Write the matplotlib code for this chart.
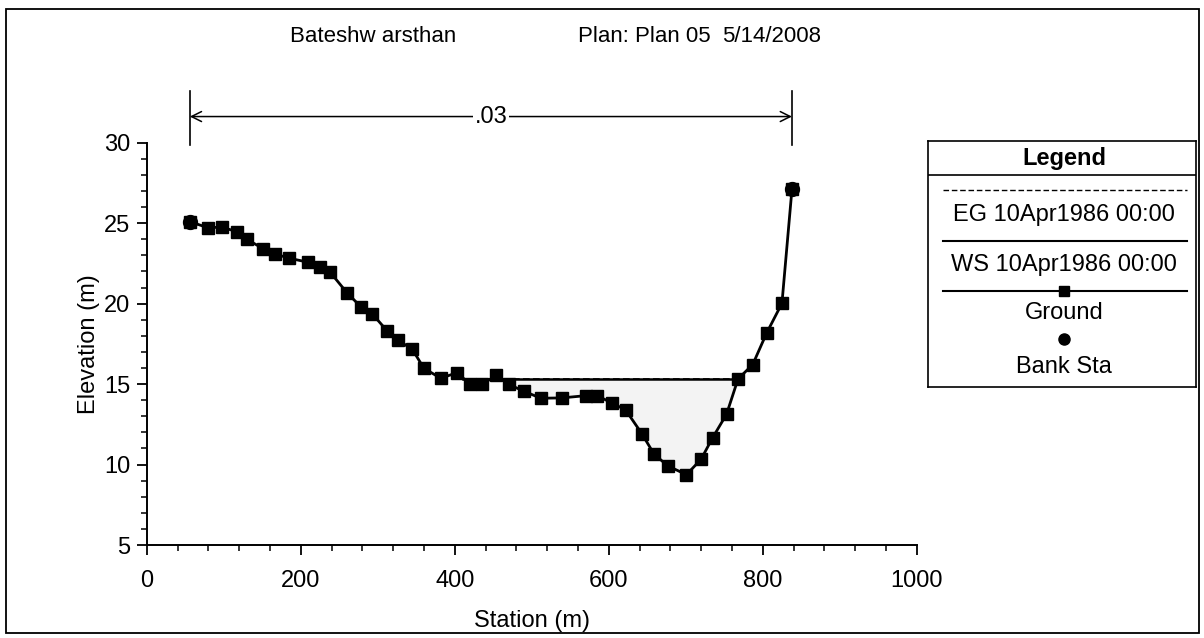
import matplotlib
matplotlib.use("Agg")
import matplotlib.pyplot as plt
from matplotlib.patches import Rectangle
from matplotlib.ticker import MultipleLocator
import numpy as np

plt.rcParams['font.family'] = ['Liberation Sans', 'DejaVu Sans']

# ground profile
station = [56, 79, 98, 117, 130, 151, 166, 185, 210, 225, 238, 260, 278, 293,
           312, 326, 345, 360, 382, 403, 420, 436, 454, 470, 490, 512, 539,
           570, 585, 604, 622, 643, 659, 677, 701, 720, 735, 753, 768, 787,
           805, 825, 838]
elevation = [25.1, 24.72, 24.75, 24.47, 24.0, 23.42, 23.1, 22.82, 22.57, 22.3,
             21.97, 20.68, 19.81, 19.36, 18.32, 17.74, 17.16, 15.98, 15.36,
             15.71, 14.99, 14.99, 15.55, 14.99, 14.55, 14.12, 14.14, 14.28,
             14.28, 13.83, 13.39, 11.92, 10.64, 9.91, 9.37, 10.33, 11.67,
             13.12, 15.32, 16.21, 18.16, 20.02, 27.11]
bank_sta = [56, 838]
bank_elev = [25.1, 27.11]
ws_stations = [411, 768]
ws_elev = 15.32
eg_elev = 15.34
mann_n = ".03"

title_parts = ["Bateshw arsthan", "Plan: Plan 05", "5/14/2008"]
legend_labels = ["EG 10Apr1986 00:00", "WS 10Apr1986 00:00", "Ground", "Bank Sta"]

W, H = 1204, 638
fig = plt.figure(figsize=(W / 100, H / 100), dpi=100)

def fx(px):
    return px / W

def fy(py):
    return 1 - py / H

ax = fig.add_axes([fx(146.7), fy(545), fx(916.7 - 146.7), (545 - 142.7) / H])

st = np.array(station, dtype=float)
el = np.array(elevation, dtype=float)

# wetted area
m = (st >= ws_stations[0] - 10) & (st <= ws_stations[1])
ax.fill_between(st[m], el[m], ws_elev, where=el[m] <= ws_elev, interpolate=True,
                facecolor='#f3f3f3', edgecolor='none', zorder=1)

ax.plot(ws_stations, [eg_elev, eg_elev], color='black', lw=1.2, ls=(0, (4, 2)), zorder=2)
ax.plot(ws_stations, [ws_elev, ws_elev], color='black', lw=1.8, zorder=2)
ax.plot(station, elevation, color='black', lw=2, marker='s', ms=8.5, zorder=3)
ax.plot(bank_sta, bank_elev, ls='none', marker='o', ms=10, color='black', zorder=4)

ax.set_xlim(0, 1000)
ax.set_ylim(5, 30)
ax.xaxis.set_major_locator(MultipleLocator(200))
ax.xaxis.set_minor_locator(MultipleLocator(40))
ax.yaxis.set_major_locator(MultipleLocator(5))
ax.yaxis.set_minor_locator(MultipleLocator(1))
for s in ['top', 'right']:
    ax.spines[s].set_visible(False)
for s in ['left', 'bottom']:
    ax.spines[s].set_linewidth(1.4)
ax.tick_params(which='major', direction='out', length=7, width=1.3, labelsize=17, pad=5)
ax.tick_params(which='minor', direction='out', length=4.5, width=1.1)
ax.tick_params(axis='x', which='major', pad=11)
ax.set_xlabel("Station (m)", fontsize=17, labelpad=13)
ax.set_ylabel("Elevation (m)", fontsize=17, labelpad=3)

# Manning's n span between bank stations
tr = ax.get_xaxis_transform()
for b in bank_sta:
    ax.plot([b, b], [0.994, 1.128], transform=tr, color='black', lw=1.2, clip_on=False)
ax.annotate("", xy=(bank_sta[0], 1.065), xytext=(bank_sta[1], 1.065), xycoords=tr,
            textcoords=tr, arrowprops=dict(arrowstyle='<->', lw=1.1, color='black',
                                           shrinkA=0, shrinkB=0, mutation_scale=18))
ax.text(np.mean(bank_sta), 1.065, mann_n, transform=tr, ha='center', va='center',
        fontsize=17, bbox=dict(facecolor='white', edgecolor='none', pad=1))

# title
for txt, px in zip(title_parts, [290, 578, 722]):
    fig.text(fx(px), fy(37), txt, ha='left', va='center', fontsize=16)

# legend box
lg = fig.add_axes([fx(928), fy(387), fx(1196 - 928), (387 - 141) / H])
lg.set_xlim(928, 1196)
lg.set_ylim(387, 141)
lg.set_xticks([])
lg.set_yticks([])
for s in lg.spines.values():
    s.set_linewidth(1.2)
cx = 1064
lg.text(cx, 158, "Legend", ha='center', va='center', fontsize=17, fontweight='bold')
lg.plot([928, 1196], [175, 175], color='black', lw=1.2)
lg.plot([943, 1187], [190, 190], color='black', lw=1, ls=(0, (4, 2)))
lg.text(cx, 215, legend_labels[0], ha='center', va='center', fontsize=17)
lg.plot([943, 1187], [240.7, 240.7], color='black', lw=1.5)
lg.text(cx, 265, legend_labels[1], ha='center', va='center', fontsize=17)
lg.plot([943, 1187], [290.7, 290.7], color='black', lw=1.5)
lg.plot([cx], [290.7], marker='s', ms=7, color='black')
lg.text(cx, 313, legend_labels[2], ha='center', va='center', fontsize=17)
lg.plot([cx], [339.3], marker='o', ms=8, color='black')
lg.text(cx, 367, legend_labels[3], ha='center', va='center', fontsize=17)

# outer frame
fig.patches.append(Rectangle((fx(6), fy(633)), fx(1199 - 6), (633 - 9) / H,
                             transform=fig.transFigure, fill=False, lw=1.3,
                             edgecolor='black'))

fig.savefig("out.png", dpi=100)
